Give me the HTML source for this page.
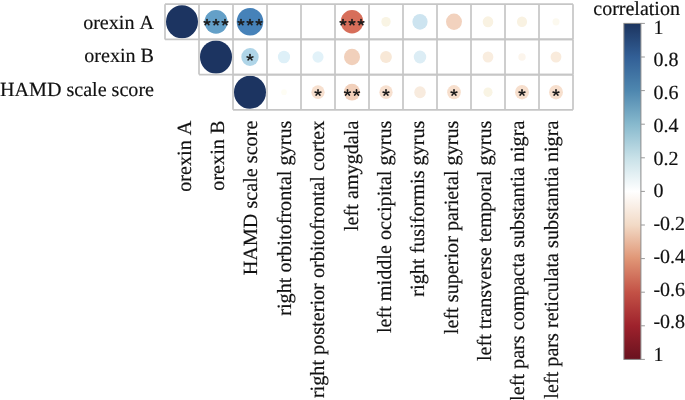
<!DOCTYPE html>
<html><head><meta charset="utf-8"><style>
html,body{margin:0;padding:0;background:#fff;width:685px;height:400px;overflow:hidden}
svg{display:block;will-change:transform}
text{font-family:"Liberation Serif",serif;font-size:20px;fill:#111;text-rendering:geometricPrecision;font-kerning:none;stroke:#111;stroke-width:0.18px}
.rl{text-anchor:end;font-size:20.1px}
.cl{text-anchor:end;font-size:20.2px}
.st{text-anchor:middle;font-size:20px;fill:#222}
.grid line{stroke:#c6c6c6;stroke-width:1.7}
.ticks line{stroke:#999;stroke-width:1}
</style></head><body>
<svg width="685" height="400" viewBox="0 0 685 400">
<defs><g id="s" fill="#1c1c1c"><path d="M-0.6,0 L-0.88,-2.85 A0.88,0.88 0 0 1 0.88,-2.85 L0.6,0 Z" transform="rotate(0)"/><path d="M-0.6,0 L-0.88,-2.85 A0.88,0.88 0 0 1 0.88,-2.85 L0.6,0 Z" transform="rotate(78)"/><path d="M-0.6,0 L-0.88,-2.85 A0.88,0.88 0 0 1 0.88,-2.85 L0.6,0 Z" transform="rotate(140)"/><path d="M-0.6,0 L-0.88,-2.85 A0.88,0.88 0 0 1 0.88,-2.85 L0.6,0 Z" transform="rotate(220)"/><path d="M-0.6,0 L-0.88,-2.85 A0.88,0.88 0 0 1 0.88,-2.85 L0.6,0 Z" transform="rotate(282)"/><circle r="0.8"/></g><linearGradient id="g" x1="0" y1="0" x2="0" y2="1">
<stop offset="0.00" stop-color="#1c345f"/>
<stop offset="0.10" stop-color="#325f96"/>
<stop offset="0.20" stop-color="#4e87af"/>
<stop offset="0.30" stop-color="#87b9cd"/>
<stop offset="0.40" stop-color="#c8e1e8"/>
<stop offset="0.50" stop-color="#ffffff"/>
<stop offset="0.60" stop-color="#f2dac6"/>
<stop offset="0.70" stop-color="#e09676"/>
<stop offset="0.80" stop-color="#c35246"/>
<stop offset="0.90" stop-color="#9e222c"/>
<stop offset="1.00" stop-color="#69121f"/>
</linearGradient></defs>
<g class="grid">
<ellipse cx="182.00" cy="21.80" rx="16.00" ry="16.56" fill="#1c3461"/>
<ellipse cx="216.00" cy="21.80" rx="11.50" ry="11.91" fill="#64a0c8"/>
<ellipse cx="250.00" cy="21.80" rx="13.30" ry="13.77" fill="#4682b9"/>
<ellipse cx="352.00" cy="21.80" rx="11.30" ry="11.70" fill="#d76e5a"/>
<ellipse cx="386.00" cy="21.80" rx="4.70" ry="4.87" fill="#f9f4e4"/>
<ellipse cx="420.00" cy="21.80" rx="7.60" ry="7.87" fill="#cde4f0"/>
<ellipse cx="454.00" cy="21.80" rx="7.95" ry="8.23" fill="#f2d2be"/>
<ellipse cx="488.00" cy="21.80" rx="5.30" ry="5.49" fill="#f9f2e2"/>
<ellipse cx="522.00" cy="21.80" rx="5.10" ry="5.28" fill="#f9f2e2"/>
<ellipse cx="556.00" cy="21.80" rx="3.50" ry="3.62" fill="#fcf9ef"/>
<ellipse cx="216.00" cy="57.00" rx="16.00" ry="16.56" fill="#1c3461"/>
<ellipse cx="250.00" cy="57.00" rx="8.70" ry="9.01" fill="#afd5e8"/>
<ellipse cx="284.00" cy="57.00" rx="6.10" ry="6.32" fill="#def0f8"/>
<ellipse cx="318.00" cy="57.00" rx="5.55" ry="5.75" fill="#e2f2f9"/>
<ellipse cx="352.00" cy="57.00" rx="8.00" ry="8.28" fill="#f1d0bb"/>
<ellipse cx="386.00" cy="57.00" rx="5.90" ry="6.11" fill="#f8e8d7"/>
<ellipse cx="420.00" cy="57.00" rx="6.25" ry="6.47" fill="#dcedf5"/>
<ellipse cx="488.00" cy="57.00" rx="5.35" ry="5.54" fill="#f9eddf"/>
<ellipse cx="522.00" cy="57.00" rx="3.70" ry="3.83" fill="#fcf5ec"/>
<ellipse cx="556.00" cy="57.00" rx="5.40" ry="5.59" fill="#f9ebdc"/>
<ellipse cx="250.00" cy="92.20" rx="16.00" ry="16.56" fill="#1c3461"/>
<ellipse cx="284.00" cy="92.20" rx="2.80" ry="2.90" fill="#fefdf4"/>
<ellipse cx="318.00" cy="92.20" rx="6.60" ry="6.83" fill="#f7e0cf"/>
<ellipse cx="352.00" cy="92.20" rx="8.10" ry="8.39" fill="#f1d0bb"/>
<ellipse cx="386.00" cy="92.20" rx="6.65" ry="6.88" fill="#f7e0cf"/>
<ellipse cx="420.00" cy="92.20" rx="5.75" ry="5.95" fill="#f8ebde"/>
<ellipse cx="454.00" cy="92.20" rx="6.85" ry="7.09" fill="#f7dfcd"/>
<ellipse cx="488.00" cy="92.20" rx="4.55" ry="4.71" fill="#f9f4e4"/>
<ellipse cx="522.00" cy="92.20" rx="6.95" ry="7.20" fill="#f7dfcd"/>
<ellipse cx="556.00" cy="92.20" rx="6.95" ry="7.20" fill="#f7dfcd"/>
<line x1="165.00" y1="4.20" x2="573.00" y2="4.20"/>
<line x1="165.00" y1="39.40" x2="573.00" y2="39.40"/>
<line x1="165.00" y1="4.20" x2="165.00" y2="39.40"/>
<line x1="199.00" y1="4.20" x2="199.00" y2="39.40"/>
<line x1="233.00" y1="4.20" x2="233.00" y2="39.40"/>
<line x1="267.00" y1="4.20" x2="267.00" y2="39.40"/>
<line x1="301.00" y1="4.20" x2="301.00" y2="39.40"/>
<line x1="335.00" y1="4.20" x2="335.00" y2="39.40"/>
<line x1="369.00" y1="4.20" x2="369.00" y2="39.40"/>
<line x1="403.00" y1="4.20" x2="403.00" y2="39.40"/>
<line x1="437.00" y1="4.20" x2="437.00" y2="39.40"/>
<line x1="471.00" y1="4.20" x2="471.00" y2="39.40"/>
<line x1="505.00" y1="4.20" x2="505.00" y2="39.40"/>
<line x1="539.00" y1="4.20" x2="539.00" y2="39.40"/>
<line x1="573.00" y1="4.20" x2="573.00" y2="39.40"/>
<line x1="199.00" y1="39.40" x2="573.00" y2="39.40"/>
<line x1="199.00" y1="74.60" x2="573.00" y2="74.60"/>
<line x1="199.00" y1="39.40" x2="199.00" y2="74.60"/>
<line x1="233.00" y1="39.40" x2="233.00" y2="74.60"/>
<line x1="267.00" y1="39.40" x2="267.00" y2="74.60"/>
<line x1="301.00" y1="39.40" x2="301.00" y2="74.60"/>
<line x1="335.00" y1="39.40" x2="335.00" y2="74.60"/>
<line x1="369.00" y1="39.40" x2="369.00" y2="74.60"/>
<line x1="403.00" y1="39.40" x2="403.00" y2="74.60"/>
<line x1="437.00" y1="39.40" x2="437.00" y2="74.60"/>
<line x1="471.00" y1="39.40" x2="471.00" y2="74.60"/>
<line x1="505.00" y1="39.40" x2="505.00" y2="74.60"/>
<line x1="539.00" y1="39.40" x2="539.00" y2="74.60"/>
<line x1="573.00" y1="39.40" x2="573.00" y2="74.60"/>
<line x1="233.00" y1="74.60" x2="573.00" y2="74.60"/>
<line x1="233.00" y1="109.80" x2="573.00" y2="109.80"/>
<line x1="233.00" y1="74.60" x2="233.00" y2="109.80"/>
<line x1="267.00" y1="74.60" x2="267.00" y2="109.80"/>
<line x1="301.00" y1="74.60" x2="301.00" y2="109.80"/>
<line x1="335.00" y1="74.60" x2="335.00" y2="109.80"/>
<line x1="369.00" y1="74.60" x2="369.00" y2="109.80"/>
<line x1="403.00" y1="74.60" x2="403.00" y2="109.80"/>
<line x1="437.00" y1="74.60" x2="437.00" y2="109.80"/>
<line x1="471.00" y1="74.60" x2="471.00" y2="109.80"/>
<line x1="505.00" y1="74.60" x2="505.00" y2="109.80"/>
<line x1="539.00" y1="74.60" x2="539.00" y2="109.80"/>
<line x1="573.00" y1="74.60" x2="573.00" y2="109.80"/>
</g>
<g>
<use href="#s" x="207.00" y="22.40"/>
<use href="#s" x="216.00" y="22.40"/>
<use href="#s" x="225.00" y="22.40"/>
<use href="#s" x="241.00" y="22.40"/>
<use href="#s" x="250.00" y="22.40"/>
<use href="#s" x="259.00" y="22.40"/>
<use href="#s" x="343.00" y="22.40"/>
<use href="#s" x="352.00" y="22.40"/>
<use href="#s" x="361.00" y="22.40"/>
<use href="#s" x="250.00" y="57.60"/>
<use href="#s" x="318.00" y="92.80"/>
<use href="#s" x="347.50" y="92.80"/>
<use href="#s" x="356.50" y="92.80"/>
<use href="#s" x="386.00" y="92.80"/>
<use href="#s" x="454.00" y="92.80"/>
<use href="#s" x="522.00" y="92.80"/>
<use href="#s" x="556.00" y="92.80"/>
</g>
<text x="154" y="28.9" class="rl">orexin A</text>
<text x="154" y="62.0" class="rl">orexin B</text>
<text x="154" y="95.5" class="rl">HAMD scale score</text>
<text transform="translate(190.60,120.6) rotate(-90)" class="cl">orexin A</text>
<text transform="translate(223.98,120.6) rotate(-90)" class="cl">orexin B</text>
<text transform="translate(257.36,120.6) rotate(-90)" class="cl">HAMD scale score</text>
<text transform="translate(290.74,120.6) rotate(-90)" class="cl">right orbitofrontal gyrus</text>
<text transform="translate(324.12,120.6) rotate(-90)" class="cl">right posterior orbitofrontal cortex</text>
<text transform="translate(357.50,120.6) rotate(-90)" class="cl">left amygdala</text>
<text transform="translate(390.88,120.6) rotate(-90)" class="cl">left middle occipital gyrus</text>
<text transform="translate(424.26,120.6) rotate(-90)" class="cl">right fusiformis gyrus</text>
<text transform="translate(457.64,120.6) rotate(-90)" class="cl">left superior parietal gyrus</text>
<text transform="translate(491.02,120.6) rotate(-90)" class="cl">left transverse temporal gyrus</text>
<text transform="translate(524.40,120.6) rotate(-90)" class="cl">left pars compacta substantia nigra</text>
<text transform="translate(557.78,120.6) rotate(-90)" class="cl">left pars reticulata substantia nigra</text>
<text x="593.3" y="14.6">correlation</text>
<rect x="623.9" y="23.4" width="17.0" height="336.00" fill="url(#g)" stroke="#8a8a8a" stroke-width="1"/>
<g class="ticks">
<line x1="640.90" y1="23.40" x2="644.90" y2="23.40"/>
<line x1="640.90" y1="57.00" x2="644.90" y2="57.00"/>
<line x1="640.90" y1="90.60" x2="644.90" y2="90.60"/>
<line x1="640.90" y1="124.20" x2="644.90" y2="124.20"/>
<line x1="640.90" y1="157.80" x2="644.90" y2="157.80"/>
<line x1="640.90" y1="191.40" x2="644.90" y2="191.40"/>
<line x1="640.90" y1="225.00" x2="644.90" y2="225.00"/>
<line x1="640.90" y1="258.60" x2="644.90" y2="258.60"/>
<line x1="640.90" y1="292.20" x2="644.90" y2="292.20"/>
<line x1="640.90" y1="325.80" x2="644.90" y2="325.80"/>
<line x1="640.90" y1="359.40" x2="644.90" y2="359.40"/>
</g>
<text x="653.4" y="33.60" class="ll">1</text>
<text x="653.4" y="66.34" class="ll">0.8</text>
<text x="653.4" y="99.08" class="ll">0.6</text>
<text x="653.4" y="131.82" class="ll">0.4</text>
<text x="653.4" y="164.56" class="ll">0.2</text>
<text x="653.4" y="197.30" class="ll">0</text>
<text x="653.4" y="230.04" class="ll">-0.2</text>
<text x="653.4" y="262.78" class="ll">-0.4</text>
<text x="653.4" y="295.52" class="ll">-0.6</text>
<text x="653.4" y="328.26" class="ll">-0.8</text>
<text x="653.4" y="361.00" class="ll">1</text>
</svg>
</body></html>
